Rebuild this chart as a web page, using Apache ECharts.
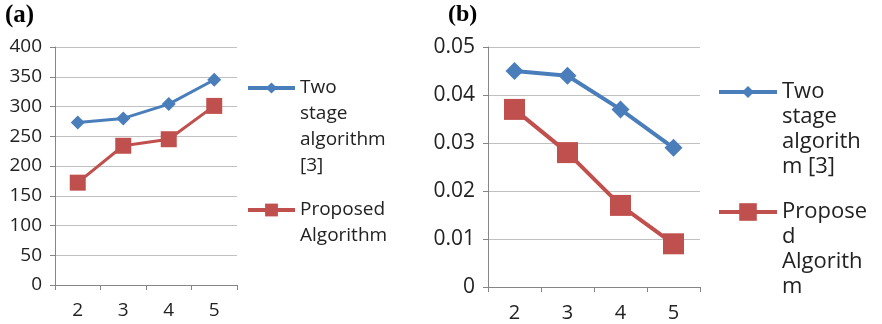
<!DOCTYPE html>
<html>
<head>
<meta charset="utf-8">
<script src="https://cdn.jsdelivr.net/npm/echarts@6/dist/echarts.min.js"></script>
<style>
  html, body { margin: 0; padding: 0; background: #fff; }
  #chart { width: 882px; height: 324px; }
</style>
</head>
<body>
<div id="chart"></div>
<script>
// data
const categories = ['2', '3', '4', '5'];
const twoStageA = [273, 280, 304, 345];
const proposedA = [172, 234, 245, 301];
const twoStageB = [0.045, 0.044, 0.037, 0.029];
const proposedB = [0.037, 0.028, 0.017, 0.009];
const nameTwoStage = 'Two stage algorithm [3]';
const nameProposed = 'Proposed Algorithm';
const legendTextA = ['Two\nstage\nalgorithm\n[3]', 'Proposed\nAlgorithm'];
const legendTextB = ['Two\nstage\nalgorith\nm [3]', 'Propose\nd\nAlgorith\nm'];

const blue = '#4a7ebb';
const red = '#c0504d';
const font = '"Open Sans", sans-serif';

let myChart = echarts.init(document.getElementById('chart'));

function axisX(idx, fs) {
  return {
    type: 'category', gridIndex: idx, data: categories, boundaryGap: true,
    axisLine: { lineStyle: { color: '#868686', width: 1 } },
    axisTick: { show: true, length: 5, lineStyle: { color: '#868686' } },
    axisLabel: { color: '#222', fontSize: fs, fontFamily: font, margin: 16 }
  };
}
function axisY(idx, max, interval, dec, fs) {
  return {
    type: 'value', gridIndex: idx, min: 0, max: max, interval: interval,
    axisLine: { show: true, lineStyle: { color: '#868686', width: 1 } },
    axisTick: { show: true, length: 5, lineStyle: { color: '#868686' } },
    splitLine: { lineStyle: { color: '#c0c0c0', width: 1 } },
    axisLabel: {
      color: '#222', fontSize: fs, fontFamily: font, margin: 13,
      formatter: v => dec ? (v === 0 ? '0' : v.toFixed(dec)) : String(v)
    }
  };
}
// legend text is centred on the icon, so empty lines are put in front
// to keep the first line level with the icon
function legendItem(name, text, left, y, w, h, fs, lh, lw) {
  const n = text.split('\n').length;
  return {
    data: [name],
    left: left, top: y - (2 * n - 1) * lh / 2,
    padding: 0, itemWidth: w, itemHeight: h, itemGap: 0,
    lineStyle: { width: lw },
    formatter: () => '\n'.repeat(n - 1) + text,
    textStyle: { fontSize: fs, fontFamily: font, color: '#222', lineHeight: lh }
  };
}

myChart.setOption({
  animation: false,
  title: [
    { text: '(a)', left: 5, top: 3, padding: 0,
      textStyle: { fontFamily: '"Liberation Serif", serif', fontWeight: 'bold', fontSize: 25, color: '#000' } },
    { text: '(b)', left: 448, top: 3, padding: 0,
      textStyle: { fontFamily: '"Liberation Serif", serif', fontWeight: 'bold', fontSize: 24, color: '#000' } }
  ],
  grid: [
    { left: 55, top: 47, width: 182, height: 238 },
    { left: 488, top: 47, width: 212, height: 240 }
  ],
  xAxis: [axisX(0, 19), axisX(1, 20)],
  yAxis: [axisY(0, 400, 50, 0, 19), axisY(1, 0.05, 0.01, 2, 21)],
  legend: [
    legendItem(nameTwoStage + ' ', legendTextA[0], 246, 88, 47, 14, 19, 26, 4),
    legendItem(nameProposed + ' ', legendTextA[1], 246, 210, 47, 16, 19, 26, 4),
    legendItem(nameTwoStage, legendTextB[0], 717, 92, 58, 15, 22, 25, 4),
    legendItem(nameProposed, legendTextB[1], 717, 212, 58, 22, 22, 25, 4)
  ],
  series: [
    { name: nameTwoStage + ' ', type: 'line', xAxisIndex: 0, yAxisIndex: 0, data: twoStageA,
      symbol: 'diamond', symbolSize: 14, lineStyle: { color: blue, width: 3 }, itemStyle: { color: blue } },
    { name: nameProposed + ' ', type: 'line', xAxisIndex: 0, yAxisIndex: 0, data: proposedA,
      symbol: 'rect', symbolSize: 16, lineStyle: { color: red, width: 3 }, itemStyle: { color: red } },
    { name: nameTwoStage, type: 'line', xAxisIndex: 1, yAxisIndex: 1, data: twoStageB,
      symbol: 'diamond', symbolSize: 18, lineStyle: { color: blue, width: 4 }, itemStyle: { color: blue } },
    { name: nameProposed, type: 'line', xAxisIndex: 1, yAxisIndex: 1, data: proposedB,
      symbol: 'rect', symbolSize: 21, lineStyle: { color: red, width: 4 }, itemStyle: { color: red } }
  ]
});
</script>
</body>
</html>
